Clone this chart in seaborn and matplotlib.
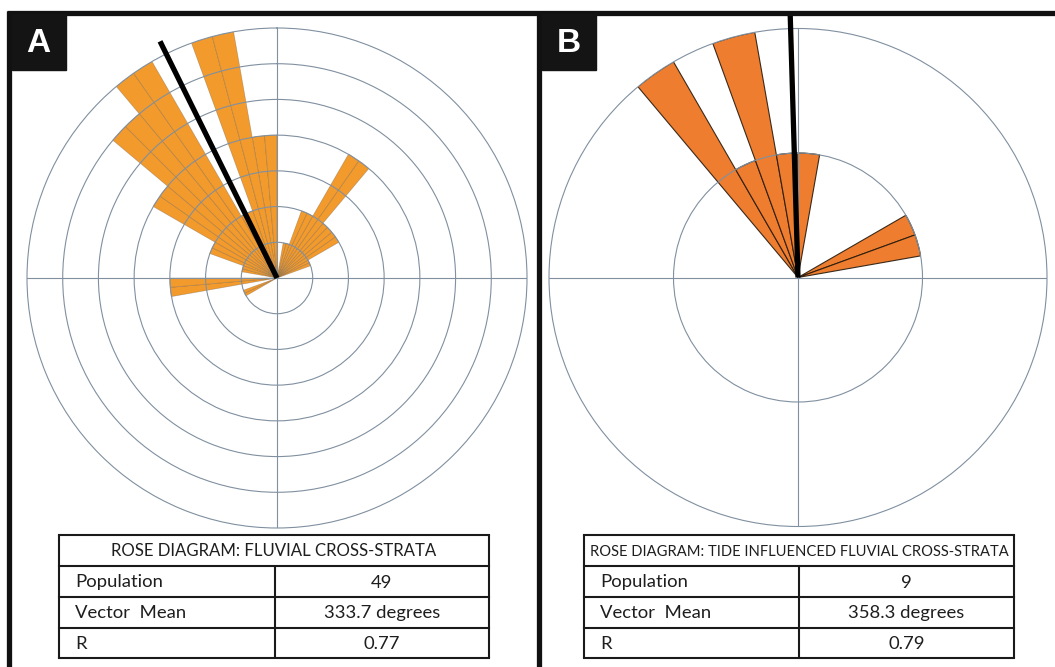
import numpy as np
import matplotlib
matplotlib.use("Agg")
import matplotlib.pyplot as plt
import seaborn as sns

# ---- data -------------------------------------------------------------
# Panel A: fluvial cross-strata, 10-degree bins (bin start bearing, count)
fluvial_bins = [240, 260, 280, 290, 300, 310, 320, 330, 340, 350, 10, 20, 30, 40, 50, 60]
fluvial_counts = [1, 3, 1, 2, 4, 6, 7, 2, 7, 4, 1, 2, 4, 2, 2, 1]
fluvial_title = "ROSE DIAGRAM: FLUVIAL CROSS-STRATA"
fluvial_population = 49
fluvial_vector_mean = 333.7
fluvial_r = 0.77

# Panel B: tide influenced fluvial cross-strata
tidal_bins = [320, 330, 340, 350, 0, 60, 70]
tidal_counts = [2, 1, 2, 1, 1, 1, 1]
tidal_title = "ROSE DIAGRAM: TIDE INFLUENCED FLUVIAL CROSS-STRATA"
tidal_population = 9
tidal_vector_mean = 358.3
tidal_r = 0.79

row_labels = ["Population", "Vector  Mean", "R"]

# ---- style ------------------------------------------------------------
sns.set_theme(style="white")
plt.rcParams["font.family"] = ["Lato", "DejaVu Sans"]

W, H = 1055, 667
fig = plt.figure(figsize=(W / 100, H / 100), dpi=100)
fig.patch.set_facecolor("white")

GRID = "#8090a0"


def polar_axes(cx, cy, rad):
    return fig.add_axes([(cx - rad) / W, (H - cy - rad) / H, 2 * rad / W, 2 * rad / H],
                        projection="polar")


def rose(ax, bins, counts, rmax, face, edge, edge_lw, split, mean_deg):
    ax.set_theta_zero_location("N")
    ax.set_theta_direction(-1)
    bins = np.asarray(bins, float)
    counts = np.asarray(counts, float)
    if split:
        # each 10-degree petal drawn as two 5-degree halves
        starts = np.concatenate([bins, bins + 5])
        heights = np.concatenate([counts, counts])
        width = 5
    else:
        starts, heights, width = bins, counts, 10
    ax.bar(np.radians(starts), heights, width=np.radians(width), align="edge",
           color=face, edgecolor=edge, linewidth=edge_lw, zorder=1)
    ax.set_rlim(0, rmax)
    ax.set_xticks(np.radians([0, 90, 180, 270]))
    ax.set_xticklabels([])
    ax.set_yticks(np.arange(1, rmax))
    ax.set_yticklabels([])
    ax.tick_params(length=0)
    ax.grid(True, color=GRID, linewidth=0.8)
    ax.set_axisbelow(False)
    ax.spines["polar"].set_color(GRID)
    ax.spines["polar"].set_linewidth(0.8)
    ax.set_facecolor("white")
    th = np.radians(mean_deg)
    ax.plot([th, th], [0, rmax * 1.056], color="black", lw=3.8,
            solid_capstyle="butt", clip_on=False, zorder=6)


ax_a = polar_axes(277, 278, 250)
rose(ax_a, fluvial_bins, fluvial_counts, 7, "#f39a2c", (0.35, 0.3, 0.25, 0.35), 0.5,
     True, fluvial_vector_mean)

ax_b = polar_axes(798, 277.5, 249)
rose(ax_b, tidal_bins, tidal_counts, 2, "#ee7d2f", (0.15, 0.1, 0.05, 0.9), 0.8,
     False, tidal_vector_mean)

# ---- frame, panel letters and summary tables ---------------------------
ov = fig.add_axes([0, 0, 1, 1], facecolor="none")
ov.set_xlim(0, W)
ov.set_ylim(H, 0)
ov.axis("off")

BORDER = dict(color="#111111", lw=3.8, solid_capstyle="butt")
ov.plot([7, W], [12.5, 12.5], **BORDER)
ov.plot([9.3, 9.3], [10.5, H], **BORDER)
ov.plot([539, 539], [10.5, H], **BORDER)

for x0, letter in [(11.5, "A"), (541.5, "B")]:
    ov.add_patch(plt.Rectangle((x0, 14), 54, 56, color="#141414", zorder=3))
    ov.text(x0 + 27, 43, letter, color="white", fontsize=24, fontweight="bold",
            family=["Liberation Sans", "DejaVu Sans"], ha="center", va="center", zorder=4)


def table(x0, x1, xdiv, title, title_fs, values):
    ys = [535, 566, 597, 627.5, 658]
    lw = 1.5
    col = "#1a1a1a"
    for y in ys:
        ov.plot([x0, x1], [y, y], color=col, lw=lw, solid_capstyle="projecting")
    ov.plot([x0, x0], [ys[0], ys[-1]], color=col, lw=lw)
    ov.plot([x1, x1], [ys[0], ys[-1]], color=col, lw=lw)
    ov.plot([xdiv, xdiv], [ys[1], ys[-1]], color=col, lw=lw)
    ov.text((x0 + x1) / 2, (ys[0] + ys[1]) / 2 + 1, title, fontsize=title_fs,
            ha="center", va="center", color="#1e1e1e")
    for i, (lab, val) in enumerate(zip(row_labels, values)):
        yc = (ys[i + 1] + ys[i + 2]) / 2 + 1
        ov.text(x0 + 16, yc, lab, fontsize=13.3, ha="left", va="center", color="#1e1e1e")
        ov.text((xdiv + x1) / 2, yc, val, fontsize=13.3, ha="center", va="center",
                color="#1e1e1e")


table(59, 489, 274.5, fluvial_title, 12.1,
      [str(fluvial_population), f"{fluvial_vector_mean:.1f} degrees", f"{fluvial_r:.2f}"])
table(584, 1014, 799, tidal_title, 10.6,
      [str(tidal_population), f"{tidal_vector_mean:.1f} degrees", f"{tidal_r:.2f}"])

fig.savefig("out.png", dpi=100, facecolor="white")
